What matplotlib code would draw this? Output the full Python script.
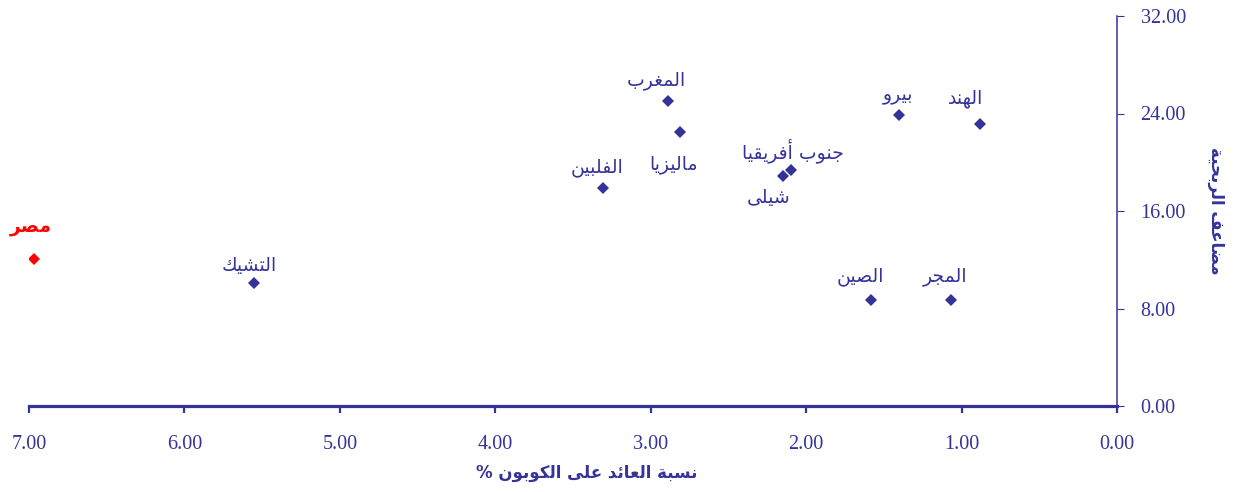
import matplotlib
matplotlib.use("Agg")
import matplotlib.pyplot as plt
import numpy as np

plt.rcParams['font.family'] = ['Liberation Serif', 'DejaVu Sans']

# data
countries = ["مصر", "التشيك", "الفلبين", "المغرب", "ماليزيا", "جنوب أفريقيا",
             "شيلى", "بيرو", "الهند", "الصين", "المجر"]
coupon_yield = [6.97, 5.55, 3.31, 2.89, 2.81, 2.10, 2.15, 1.40, 0.88, 1.58, 1.07]
pe_ratio = [12.06, 10.09, 17.88, 25.02, 22.48, 19.36, 18.87, 23.87, 23.13, 8.70, 8.70]
x_ticks = [7, 6, 5, 4, 3, 2, 1, 0]
y_ticks = [0, 8, 16, 24, 32]
x_title = "نسبة العائد على الكوبون %"
y_title = "مضاعف الربحية"

# label offsets in pixels (dx, dy)
offsets = [(-3, 33), (-5, 18), (-6, 21), (-11, 21), (-7, -32), (2, 19),
           (-14, -21), (-1, 21), (-15, 26), (-11, 23), (-6, 23)]

NAVY = "#333399"
RED = "#ff0000"

# matplotlib has no arabic shaping, so map to presentation forms by hand
DUAL = {'ب': 0xFE8F, 'ت': 0xFE95, 'ج': 0xFE9D, 'ح': 0xFEA1, 'س': 0xFEB1,
        'ش': 0xFEB5, 'ص': 0xFEB9, 'ض': 0xFEBD, 'ع': 0xFEC9, 'غ': 0xFECD,
        'ف': 0xFED1, 'ق': 0xFED5, 'ك': 0xFED9, 'ل': 0xFEDD, 'م': 0xFEE1,
        'ن': 0xFEE5, 'ه': 0xFEE9, 'ي': 0xFEF1, 'ئ': 0xFE89}
RIGHT = {'ا': 0xFE8D, 'أ': 0xFE83, 'ة': 0xFE93, 'د': 0xFEA9, 'ر': 0xFEAD,
         'ز': 0xFEAF, 'و': 0xFEED, 'ى': 0xFEEF}


def shape(text):
    out = []
    for i, ch in enumerate(text):
        if ch not in DUAL and ch not in RIGHT:
            out.append(ch)
            continue
        prev = text[i-1] if i > 0 else ''
        nxt = text[i+1] if i < len(text)-1 else ''
        j_prev = prev in DUAL
        j_next = ch in DUAL and (nxt in DUAL or nxt in RIGHT)
        base = DUAL.get(ch, RIGHT.get(ch))
        if j_prev and j_next:
            out.append(chr(base + 3))
        elif j_prev:
            out.append(chr(base + 1))
        elif j_next:
            out.append(chr(base + 2))
        else:
            out.append(chr(base))
    return ''.join(out)[::-1]


fig = plt.figure(figsize=(12.41, 4.92), dpi=100)
ax = fig.add_axes([29/1241, 1-406/492, (1117-29)/1241, 390/492])

for i in range(len(countries)):
    col = RED if countries[i] == "مصر" else NAVY
    ax.plot(coupon_yield[i], pe_ratio[i], marker='D', markersize=6.5,
            color=col, markeredgewidth=0, linestyle='none')
    ax.annotate(shape(countries[i]), (coupon_yield[i], pe_ratio[i]),
                xytext=offsets[i], textcoords='offset pixels',
                ha='center', va='center', fontsize=13.5, color=col,
                fontweight='bold' if col == RED else 'normal',
                family='DejaVu Sans')

ax.set_xlim(7, 0)
ax.set_ylim(0, 32)
ax.set_xticks(x_ticks)
ax.set_yticks(y_ticks)
ax.set_xticklabels(["%.2f" % v for v in x_ticks])
ax.set_yticklabels(["%.2f" % v for v in y_ticks])

ax.yaxis.tick_right()
ax.yaxis.set_label_position("right")
for s in ['top', 'left']:
    ax.spines[s].set_visible(False)
ax.spines['bottom'].set_color(NAVY)
ax.spines['bottom'].set_linewidth(2.3)
ax.spines['right'].set_color(NAVY)
ax.spines['right'].set_linewidth(1.1)

ax.tick_params(axis='x', colors=NAVY, direction='out', length=5, width=1.6,
               pad=16, labelsize=14.5)
ax.tick_params(axis='y', colors=NAVY, direction='out', length=5, width=0.8,
               pad=12, labelsize=14.5)

ax.set_xlabel(shape(x_title), fontsize=12, fontweight='bold', color=NAVY,
              family='DejaVu Sans', labelpad=6)
ax.xaxis.set_label_coords(0.513, -0.15)
ax.set_ylabel(shape(y_title), fontsize=12, fontweight='bold', color=NAVY,
              family='DejaVu Sans', rotation=-90, labelpad=28)

fig.savefig("out.png", dpi=100)
